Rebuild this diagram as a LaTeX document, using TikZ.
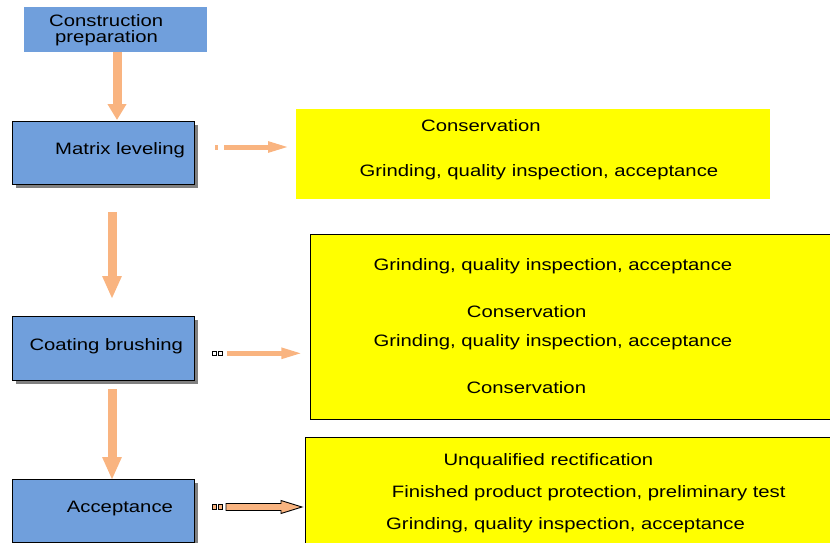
\documentclass[tikz,border=0pt]{standalone}
\usepackage{fontspec}
\setmainfont{Liberation Sans}[FakeStretch=1.23]
\usetikzlibrary{arrows.meta,calc}
\definecolor{boxblue}{RGB}{112,159,220}
\definecolor{arrowc}{RGB}{249,180,128}
\definecolor{ybox}{RGB}{255,255,0}
\definecolor{shadowc}{RGB}{128,128,128}
\tikzset{
  bluebox/.style={fill=boxblue, draw=black, line width=1pt, anchor=north west, inner sep=0pt},
  plainblue/.style={fill=boxblue, anchor=north west, inner sep=0pt},
  yelbox/.style={fill=ybox, anchor=north west, inner sep=0pt},
  yelboxb/.style={fill=ybox, draw=black, line width=1pt, anchor=north west, inner sep=0pt},
  lbl/.style={anchor=base west, inner sep=0pt, font=\fontsize{16.5}{20}\selectfont},
  downarrow/.style={draw=arrowc, line width=9pt, -{Triangle[length=16pt,width=18pt]}},
  rightarrow/.style={draw=arrowc, line width=5pt, -{Triangle[length=22pt,width=10pt]}},
  tinysq/.style={draw=black, line width=0.8pt, inner sep=0pt, minimum width=4pt, minimum height=4.5pt}
}
\begin{document}
\begin{tikzpicture}[x=1pt,y=-1pt]
\useasboundingbox (0,0) rectangle (830,543);
% left column boxes
\node[plainblue, minimum width=183pt, minimum height=45pt] (prep) at (24,7) {};
\fill[shadowc] (16,125) rectangle (198,188);
\node[bluebox, minimum width=182pt, minimum height=63pt] (matrix) at (12,121) {};
\fill[shadowc] (16,320) rectangle (198,384);
\node[bluebox, minimum width=182pt, minimum height=64pt] (coat) at (12,316) {};
\fill[shadowc] (16,483) rectangle (198,547);
\node[bluebox, minimum width=182pt, minimum height=63pt] (accept) at (12,479) {};
% labels
\node[lbl] (t1) at (49,26.7) {Construction};
\node[lbl] (t2) at (55,42.7) {preparation};
\node[lbl] (t3) at (55,154) {Matrix leveling};
\node[lbl] (t4) at (29.3,350) {Coating brushing};
\node[lbl] (t5) at (66.7,512) {Acceptance};
% yellow boxes
\node[yelbox, minimum width=474pt, minimum height=90pt] (y1) at (296,109) {};
\node[yelboxb, minimum width=530pt, minimum height=185pt] (y2) at (310,233.5) {};
\node[yelboxb, minimum width=535pt, minimum height=120pt] (y3) at (304.5,437) {};
\node[lbl] (y1a) at (421,131) {Conservation};
\node[lbl] (y1b) at (359.3,176) {Grinding, quality inspection, acceptance};
\node[lbl] (y2a) at (373.3,270) {Grinding, quality inspection, acceptance};
\node[lbl] (y2b) at (466.7,317) {Conservation};
\node[lbl] (y2c) at (373.3,346.7) {Grinding, quality inspection, acceptance};
\node[lbl] (y2d) at (466.3,393) {Conservation};
\node[lbl] (y3a) at (443.3,465.7) {Unqualified rectification};
\node[lbl] (y3b) at (391.7,497.7) {Finished product protection, preliminary test};
\node[lbl] (y3c) at (386,529.3) {Grinding, quality inspection, acceptance};
% vertical arrows
\coordinate (d1s) at (117,52);
\coordinate (d1e) at (117,120);
\coordinate (d2s) at (112,212);
\coordinate (d2e) at (112,299);
\coordinate (d3s) at (112,389);
\coordinate (d3e) at (112,480);
\draw[downarrow] (d1s) -- (d1e);
\draw[downarrow, -{Triangle[length=23pt,width=18pt]}] (d2s) -- (d2e);
\draw[downarrow, -{Triangle[length=23pt,width=18pt]}] (d3s) -- (d3e);
% row 1 right arrow
\coordinate (r1s) at (224,147);
\coordinate (r1e) at (290,147);
\fill[arrowc] (215,145) rectangle (218,149.5);
\draw[rightarrow] (r1s) -- (r1e);
% row 2 right arrow
\node[tinysq, fill=white] (sq2a) at (214.2,353.3) {};
\node[tinysq, fill=white] (sq2b) at (220.5,353.3) {};
\coordinate (r2s) at (226.5,353.3);
\coordinate (r2e) at (303.3,353.3);
\draw[rightarrow] (r2s) -- (r2e);
% row 3 outlined arrow
\node[tinysq, fill=arrowc] (sq3a) at (214.2,507) {};
\node[tinysq, fill=arrowc] (sq3b) at (220.5,507) {};
\coordinate (r3s) at (226,507);
\coordinate (r3e) at (302,507);
\draw[black, line width=0.9pt, fill=arrowc, line join=miter]
  ($(r3s)+(0,-3.5)$) -- ($(r3e)+(-21,-3.5)$) -- ($(r3e)+(-21,-6.5)$) -- (r3e)
  -- ($(r3e)+(-21,6.5)$) -- ($(r3e)+(-21,3.5)$) -- ($(r3s)+(0,3.5)$) -- cycle;
\end{tikzpicture}
\end{document}
